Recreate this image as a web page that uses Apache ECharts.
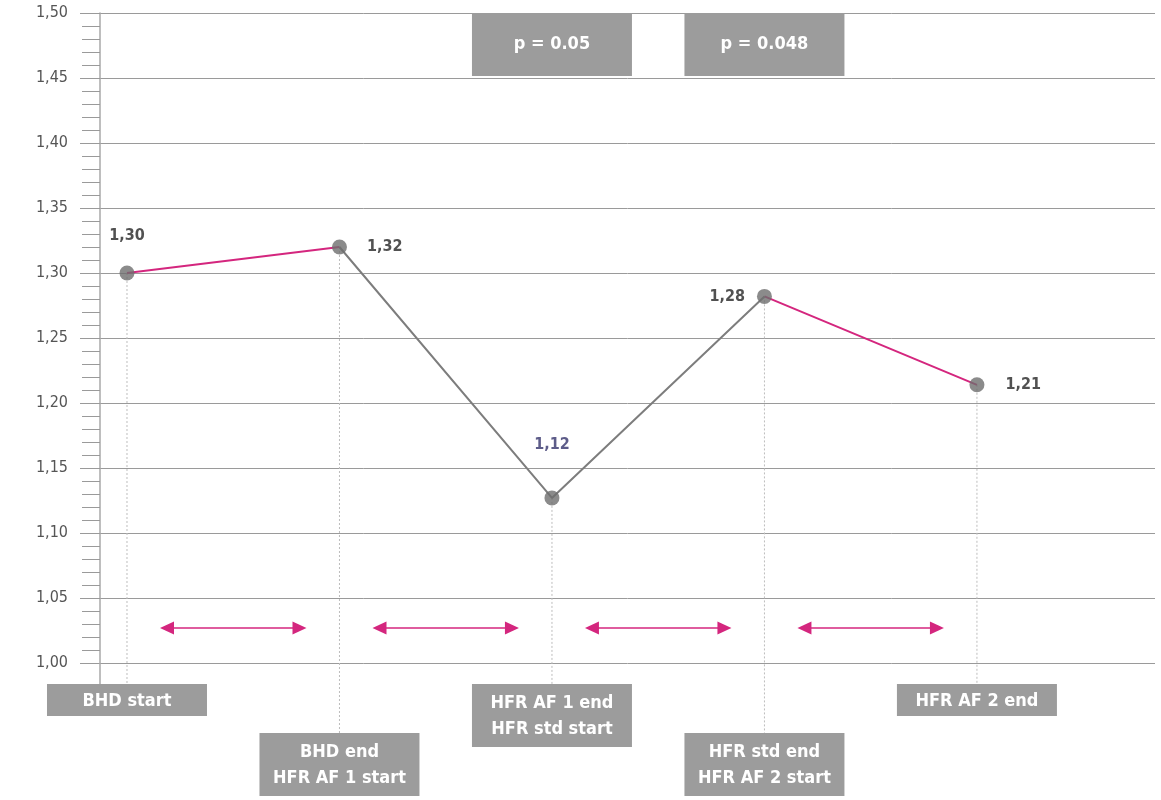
<!DOCTYPE html>
<html>
<head>
<meta charset="utf-8">
<script src="https://cdn.jsdelivr.net/npm/echarts@6/dist/echarts.min.js"></script>
<style>html,body{margin:0;padding:0;background:#fff}#c{width:1161px;height:800px}</style>
</head>
<body>
<div id="c"></div>
<script>
// ---- data ----
const stages = ['BHD start', 'BHD end\nHFR AF 1 start', 'HFR AF 1 end\nHFR std start', 'HFR std end\nHFR AF 2 start', 'HFR AF 2 end'];
const values = [1.30, 1.32, 1.127, 1.282, 1.214];
const valueLabels = ['1,30', '1,32', '1,12', '1,28', '1,21'];
const pTexts = ['p = 0.05', 'p = 0.048'];
const pStageIdx = [2, 3];
const pinkSegments = [[0, 1], [3, 4]];
const greySegments = [[1, 3]];
const arrowLevel = 1.027;

// ---- styling ----
const FONT = "'Liberation Sans Narrow','DejaVu Sans Condensed','Roboto',sans-serif";
const PINK = '#d4267e';
const GREY = '#7d7d7d';
const BOX = '#9c9c9c';

function segSeries(segs, color) {
  const d = values.map((v, i) => [i, '-']);
  segs.forEach(([a, b]) => { for (let i = a; i <= b; i++) d[i] = [i, values[i]]; });
  return { type: 'line', data: d, symbol: 'none', lineStyle: { color, width: 2 }, connectNulls: false, z: 3, silent: true };
}

const labelPos = [
  { position: 'top', distance: 22 },
  { position: 'right', distance: 20 },
  { position: 'top', distance: 38 },
  { position: 'left', distance: 12 },
  { position: 'right', distance: 21 }
];
const labelColor = ['#262626', '#262626', '#35336b', '#262626', '#262626'];

const chart = echarts.init(document.getElementById('c'));
chart.setOption({
  animation: false,
  grid: { left: 100, right: 6, top: 13, bottom: 137 },
  xAxis: { type: 'value', min: -0.127, max: 4.838, show: false },
  yAxis: {
    type: 'value', min: 1.0, max: 1.5, interval: 0.05,
    axisLine: { show: true, onZero: false, lineStyle: { color: '#a8a8a8', width: 1.5 } },
    axisTick: { show: true, length: 20, lineStyle: { color: '#9a9a9a' } },
    minorTick: { show: true, splitNumber: 5, length: 18, lineStyle: { color: '#9a9a9a' } },
    splitLine: { show: true, lineStyle: { color: '#9a9a9a', width: 1 } },
    axisLabel: { margin: 32, color: '#555', fontSize: 16, fontFamily: FONT,
      formatter: v => v.toFixed(2).replace('.', ',') }
  },
  series: [
    // vertical dotted guides (+ axis line extension below the plot)
    {
      type: 'custom', clip: false, z: 1, silent: true,
      data: values.map((v, i) => [i, v]),
      renderItem: (params, api) => {
        const i = api.value(0);
        const p = api.coord([i, api.value(1)]);
        const base = api.coord([i, 1.0])[1];
        const end = base + (i % 2 === 1 ? 70 : 21);
        const children = [{ type: 'line', shape: { x1: p[0], y1: p[1], x2: p[0], y2: end },
          style: { stroke: '#bdbdbd', lineWidth: 1, lineDash: [2, 2] } }];
        if (i === 0) {
          const gx = params.coordSys.x;
          children.push({ type: 'line', shape: { x1: gx, y1: base, x2: gx, y2: base + 21 },
            style: { stroke: '#a8a8a8', lineWidth: 1.5 } });
        }
        return { type: 'group', children };
      }
    },
    // stage boxes
    {
      type: 'custom', clip: false, z: 5, silent: true,
      data: stages.map((s, i) => [i]),
      renderItem: (params, api) => {
        const i = api.value(0);
        const x = api.coord([i, 1.0])[0];
        const base = api.coord([i, 1.0])[1];
        const top = base + (i % 2 === 1 ? 70 : 21);
        const lines = stages[i].split('\n').length;
        const h = lines === 1 ? 32 : 63;
        return { type: 'group', children: [
          { type: 'rect', shape: { x: x - 80, y: top, width: 160, height: h }, style: { fill: BOX } },
          { type: 'text', style: { text: stages[i], x: x, y: top + h / 2 + 1, align: 'center', verticalAlign: 'middle',
            fill: '#fff', font: 'bold 18px ' + FONT, lineHeight: 26 } }
        ] };
      }
    },
    // p-value boxes
    {
      type: 'custom', clip: false, z: 5, silent: true,
      data: pStageIdx.map((s, k) => [s, k]),
      renderItem: (params, api) => {
        const i = api.value(0), k = api.value(1);
        const x = api.coord([i, 1.5])[0];
        const top = api.coord([i, 1.5])[1];
        return { type: 'group', children: [
          { type: 'rect', shape: { x: x - 80, y: top, width: 160, height: 63 }, style: { fill: BOX } },
          { type: 'text', style: { text: pTexts[k], x: x, y: top + 31, align: 'center', verticalAlign: 'middle',
            fill: '#fff', font: 'bold 18px ' + FONT } }
        ] };
      }
    },
    // interval arrows
    {
      type: 'custom', clip: false, z: 4, silent: true,
      data: values.slice(0, -1).map((v, i) => [i]),
      renderItem: (params, api) => {
        const i = api.value(0);
        const a = api.coord([i, arrowLevel]);
        const b = api.coord([i + 1, arrowLevel]);
        const x1 = a[0] + 33, x2 = b[0] - 33, y = a[1];
        return { type: 'group', children: [
          { type: 'line', shape: { x1: x1 + 6, y1: y, x2: x2 - 6, y2: y }, style: { stroke: PINK, lineWidth: 1.5 } },
          { type: 'polygon', shape: { points: [[x1, y], [x1 + 14, y - 6.5], [x1 + 14, y + 6.5]] }, style: { fill: PINK } },
          { type: 'polygon', shape: { points: [[x2, y], [x2 - 14, y - 6.5], [x2 - 14, y + 6.5]] }, style: { fill: PINK } }
        ] };
      }
    },
    segSeries(pinkSegments, PINK),
    segSeries(greySegments, GREY),
    {
      type: 'scatter', z: 6, symbolSize: 15, silent: true,
      itemStyle: { color: '#6e6e6e' },
      data: values.map((v, i) => ({
        value: [i, v],
        label: Object.assign({ show: true, formatter: valueLabels[i], color: labelColor[i],
          fontSize: 16, fontWeight: 'bold', fontFamily: FONT }, labelPos[i])
      }))
    }
  ]
});
</script>
</body>
</html>
